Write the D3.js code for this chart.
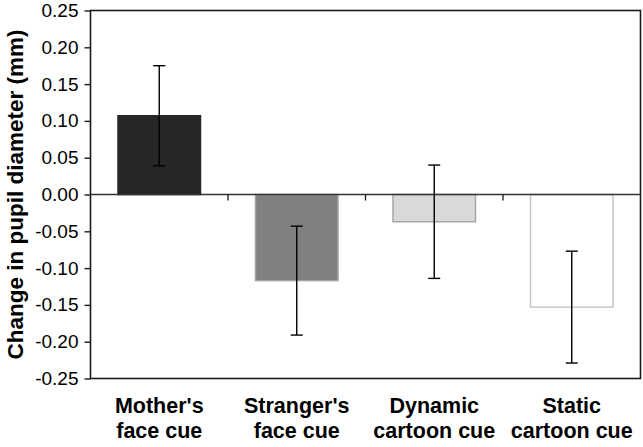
<!DOCTYPE html>
<html><head><meta charset="utf-8">
<script src="https://cdn.jsdelivr.net/npm/d3@7"></script>
<style>body{margin:0;background:#fff}svg{display:block}</style>
</head><body>
<svg id="c" width="643" height="447"></svg>
<script>
const categories = [["Mother's","face cue"],["Stranger's","face cue"],["Dynamic","cartoon cue"],["Static","cartoon cue"]];
const means = [0.107, -0.117, -0.037, -0.153];
const errors = [0.068, 0.074, 0.077, 0.076];
const yTicks = [0.25,0.20,0.15,0.10,0.05,0.00,-0.05,-0.10,-0.15,-0.20,-0.25];
const fills = ["#262626","#808080","#d9d9d9","#ffffff"];
const strokes = ["#262626","#a3a3a3","#a6a6a6","#c6c6c6"];

const svg = d3.select("#c");
const L = 90.5, R = 640.5, T = 10.5, B = 378.5;
const keys = categories.map((c,i)=>i);
const x = d3.scaleBand().domain(keys).range([L,R]).paddingInner(0.4).paddingOuter(0.2);
const y = d3.scaleLinear().domain([-0.25,0.25]).range([B,T]);

// bars
keys.forEach(i=>{
  const v = means[i];
  svg.append("rect")
    .attr("x", x(i)).attr("width", x.bandwidth())
    .attr("y", y(Math.max(0,v))).attr("height", Math.abs(y(v)-y(0)))
    .attr("fill", fills[i]).attr("stroke", strokes[i]).attr("stroke-width",1.5);
});

// frame
svg.append("rect").attr("x",L).attr("y",T).attr("width",R-L).attr("height",B-T)
  .attr("fill","none").attr("stroke","#1a1a1a").attr("stroke-width",1.6);

// y axis
const yAxis = d3.axisLeft(y).tickValues(yTicks).tickSize(6).tickPadding(6).tickFormat(d3.format(".2f"));
const ga = svg.append("g").attr("transform",`translate(${L},0)`).call(yAxis);
ga.select(".domain").remove();
ga.selectAll(".tick line").attr("stroke","#1a1a1a").attr("stroke-width",1.4);
ga.selectAll(".tick text").attr("font-family","Liberation Sans, Arial, sans-serif").attr("font-size",19).attr("fill","#000")
  .text(d=>d3.format(".2f")(d).replace("−","-"));

// zero line
svg.append("line").attr("x1",L).attr("x2",R).attr("y1",y(0)).attr("y2",y(0))
  .attr("stroke","#333").attr("stroke-width",1.6);
// category boundary ticks on zero line
const step = x.step();
keys.slice(1).forEach(i=>{
  const bx = x(i) - step*x.paddingInner()/2;
  svg.append("line").attr("x1",bx).attr("x2",bx).attr("y1",y(0)).attr("y2",y(0)+6)
    .attr("stroke","#1a1a1a").attr("stroke-width",1.3);
});

// error bars
keys.forEach(i=>{
  const cx = x(i)+x.bandwidth()/2;
  const hi = y(means[i]+errors[i]), lo = y(means[i]-errors[i]);
  const g = svg.append("g").attr("stroke","#000").attr("stroke-width",1.4);
  g.append("line").attr("x1",cx).attr("x2",cx).attr("y1",hi).attr("y2",lo);
  g.append("line").attr("x1",cx-6).attr("x2",cx+6).attr("y1",hi).attr("y2",hi);
  g.append("line").attr("x1",cx-6).attr("x2",cx+6).attr("y1",lo).attr("y2",lo);
});

// category labels
keys.forEach(i=>{
  const cx = x(i)+x.bandwidth()/2;
  const t = svg.append("text").attr("x",cx).attr("y",413).attr("text-anchor","middle")
    .attr("font-family","Liberation Sans, Arial, sans-serif").attr("font-weight","bold").attr("font-size",21.5).attr("fill","#000");
  categories[i].forEach((s,k)=>{
    t.append("tspan").attr("x",cx).attr("dy",k===0?0:25).text(s);
  });
});

// y title
svg.append("text").attr("transform",`translate(23,${(29+360)/2}) rotate(-90)`)
  .attr("text-anchor","middle").attr("font-family","Liberation Sans, Arial, sans-serif")
  .attr("font-weight","bold").attr("font-size",22.5).attr("fill","#000")
  .text("Change in pupil diameter (mm)");
</script>
</body></html>
